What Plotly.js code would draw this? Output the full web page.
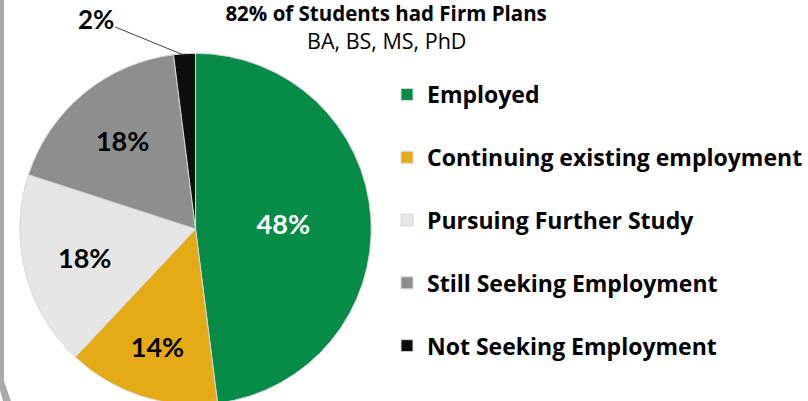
<!DOCTYPE html>
<html>
<head>
<meta charset="utf-8">
<script src="https://cdn.plot.ly/plotly-3.0.1.min.js"></script>
<style>
  html, body { margin: 0; padding: 0; background: #ffffff; overflow: hidden; }
  #chart { width: 808px; height: 420px; }
</style>
</head>
<body>
<div id="chart"></div>
<script>
// ---- data ----
const categories = [
  "Employed",
  "Continuing existing employment",
  "Pursuing Further Study",
  "Still Seeking Employment",
  "Not Seeking Employment"
];
const shares = [48, 14, 18, 18, 2];
const sliceColors = ["#078c48", "#e5ab17", "#e6e6e6", "#8e8e8e", "#0d0d0d"];
const labelColors = ["#ffffff", "#000000", "#000000", "#000000", "#000000"];
const titleText = "82% of Students had Firm Plans";
const subtitleText = "BA, BS, MS, PhD";

const W = 808, H = 420;
const px = v => v / W;
const py = v => (H - v) / H;

// legend labels get an extra blank line so entries are spaced like the reference
const legendLabels = categories.map(c => c + "<br> ");

const trace = {
  type: "pie",
  labels: legendLabels,
  values: shares,
  sort: false,
  direction: "clockwise",
  rotation: 0,
  marker: { colors: sliceColors, line: { color: "#d8d8d8", width: 1 } },
  texttemplate: "%{percent:.0%}",
  textposition: ["inside", "inside", "inside", "inside", "none"],
  insidetextorientation: "horizontal",
  textfont: { family: "Lato, 'DejaVu Sans', sans-serif", size: 27, weight: 700, color: labelColors },
  hoverinfo: "label+percent",
  domain: { x: [px(20), px(374)], y: [py(405), py(53)] },
  showlegend: true
};

const layout = {
  width: W,
  height: H,
  margin: { l: 0, r: 0, t: 0, b: 0 },
  paper_bgcolor: "#ffffff",
  title: {
    text: "<b>" + titleText + "</b>",
    font: { family: "'Open Sans', Lato, sans-serif", size: 20.5, color: "#000000" },
    x: px(389), xanchor: "center",
    y: py(14), yanchor: "middle",
    xref: "paper", yref: "container"
  },
  legend: {
    x: px(390), xanchor: "left",
    y: py(73), yanchor: "top",
    font: { family: "'Open Sans', Lato, sans-serif", size: 23, weight: 700, color: "#000000" },
    valign: "top",
    bgcolor: "rgba(0,0,0,0)",
    traceorder: "normal"
  },
  annotations: [
    {
      text: subtitleText,
      xref: "paper", yref: "paper",
      x: px(389), y: py(41),
      xanchor: "center", yanchor: "middle",
      showarrow: false,
      font: { family: "'Open Sans', Lato, sans-serif", size: 21.5, color: "#000000" }
    },
    {
      text: "<b>2%</b>",
      xref: "paper", yref: "paper",
      x: px(185), y: py(55),
      ax: -88, ay: -36,
      showarrow: true,
      arrowhead: 0,
      arrowwidth: 1,
      arrowcolor: "#404040",
      font: { family: "Lato, 'DejaVu Sans', sans-serif", size: 26, color: "#000000" }
    }
  ],
  shapes: [
    {
      type: "path",
      xref: "paper", yref: "paper",
      path: "M0," + py(0) + " L" + px(4) + "," + py(0) + " L" + px(4) + "," + py(381) +
            " L" + px(11) + "," + py(401) + " L" + px(3) + "," + py(401) + " L0," + py(390) + " Z",
      fillcolor: "#a9a9ad",
      line: { width: 0 },
      layer: "below"
    }
  ]
};

Plotly.newPlot("chart", [trace], layout, { staticPlot: true, displayModeBar: false });
</script>
</body>
</html>
